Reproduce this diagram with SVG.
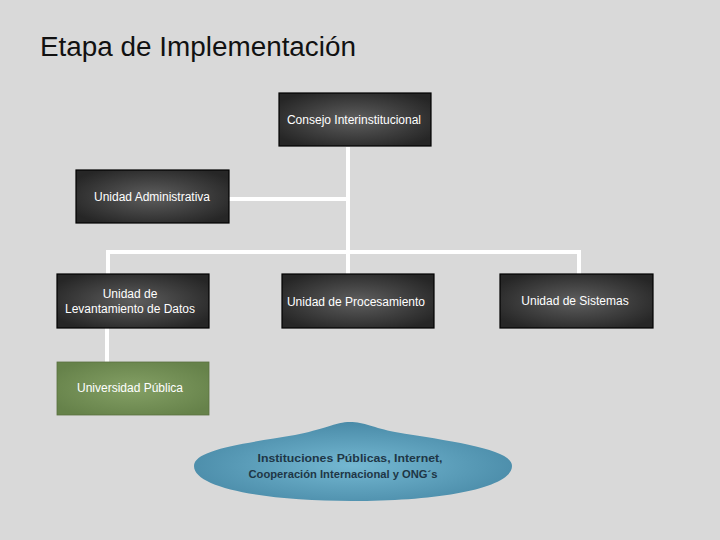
<svg xmlns="http://www.w3.org/2000/svg" width="720" height="540" viewBox="0 0 720 540">
<defs>
<radialGradient id="dark" cx="50%" cy="50%" r="60%">
<stop offset="0" stop-color="#5e5e5e"/>
<stop offset="1" stop-color="#262626"/>
</radialGradient>
<radialGradient id="green" cx="50%" cy="50%" r="60%">
<stop offset="0" stop-color="#84a065"/>
<stop offset="1" stop-color="#66824a"/>
</radialGradient>
<radialGradient id="blue" cx="50%" cy="55%" r="55%">
<stop offset="0" stop-color="#74b8d2"/>
<stop offset="1" stop-color="#4a8ba8"/>
</radialGradient>
</defs>
<style>
.box{fill:url(#dark);stroke:#000;stroke-width:1.2}
.t{font-family:"Liberation Sans",Arial,sans-serif;font-size:12px;fill:#fff;text-anchor:middle}
.c{stroke:#fff;stroke-width:4;fill:none}
.e{font-family:"Liberation Sans",Arial,sans-serif;font-size:11.5px;font-weight:bold;fill:#1e3646;text-anchor:middle}
</style>
<rect width="720" height="540" fill="#d9d9d9"/>
<text x="40" y="56" font-family="'Liberation Sans',Arial,sans-serif" font-size="27" fill="#111" textLength="316" lengthAdjust="spacingAndGlyphs">Etapa de Implementación</text>
<g id="connectors">
<line class="c" x1="348" y1="147" x2="348" y2="254"/>
<line class="c" x1="229" y1="199" x2="348" y2="199"/>
<polyline class="c" points="108,274 108,252 579,252 579,274"/>
<line class="c" x1="348" y1="252" x2="348" y2="274"/>
<line class="c" x1="107" y1="328" x2="107" y2="362"/>
</g>
<g id="consejo">
<rect class="box" x="279" y="93" width="152" height="53"/>
<text class="t" x="354" y="124">Consejo Interinstitucional</text>
</g>
<g id="administrativa">
<rect class="box" x="76" y="170" width="153" height="53"/>
<text class="t" x="152" y="201">Unidad Administrativa</text>
</g>
<g id="levantamiento">
<rect class="box" x="57" y="274" width="152" height="54"/>
<text class="t" x="130" y="298">Unidad de</text>
<text class="t" x="130" y="313">Levantamiento de Datos</text>
</g>
<g id="procesamiento">
<rect class="box" x="282" y="274" width="152" height="54"/>
<text class="t" x="356" y="306">Unidad de Procesamiento</text>
</g>
<g id="sistemas">
<rect class="box" x="500" y="274" width="153" height="54"/>
<text class="t" x="575" y="305">Unidad de Sistemas</text>
</g>
<g id="universidad">
<rect x="57" y="362" width="152" height="53" fill="url(#green)" stroke="#5a7040" stroke-width="0.8"/>
<text class="t" x="130" y="392">Universidad Pública</text>
</g>
<g id="instituciones">
<path d="M194,466 C194,450 240,444 295,435 C322,430 336,422 350,422 C364,422 374,428 395,432 C455,442 512,449 512,466 C512,488 440,501 352,501 C265,501 194,488 194,466 Z" fill="url(#blue)"/>
<text class="e" x="350" y="462" textLength="185" lengthAdjust="spacingAndGlyphs">Instituciones Públicas, Internet,</text>
<text class="e" x="343" y="478" textLength="189" lengthAdjust="spacingAndGlyphs">Cooperación Internacional y ONG´s</text>
</g>
</svg>
